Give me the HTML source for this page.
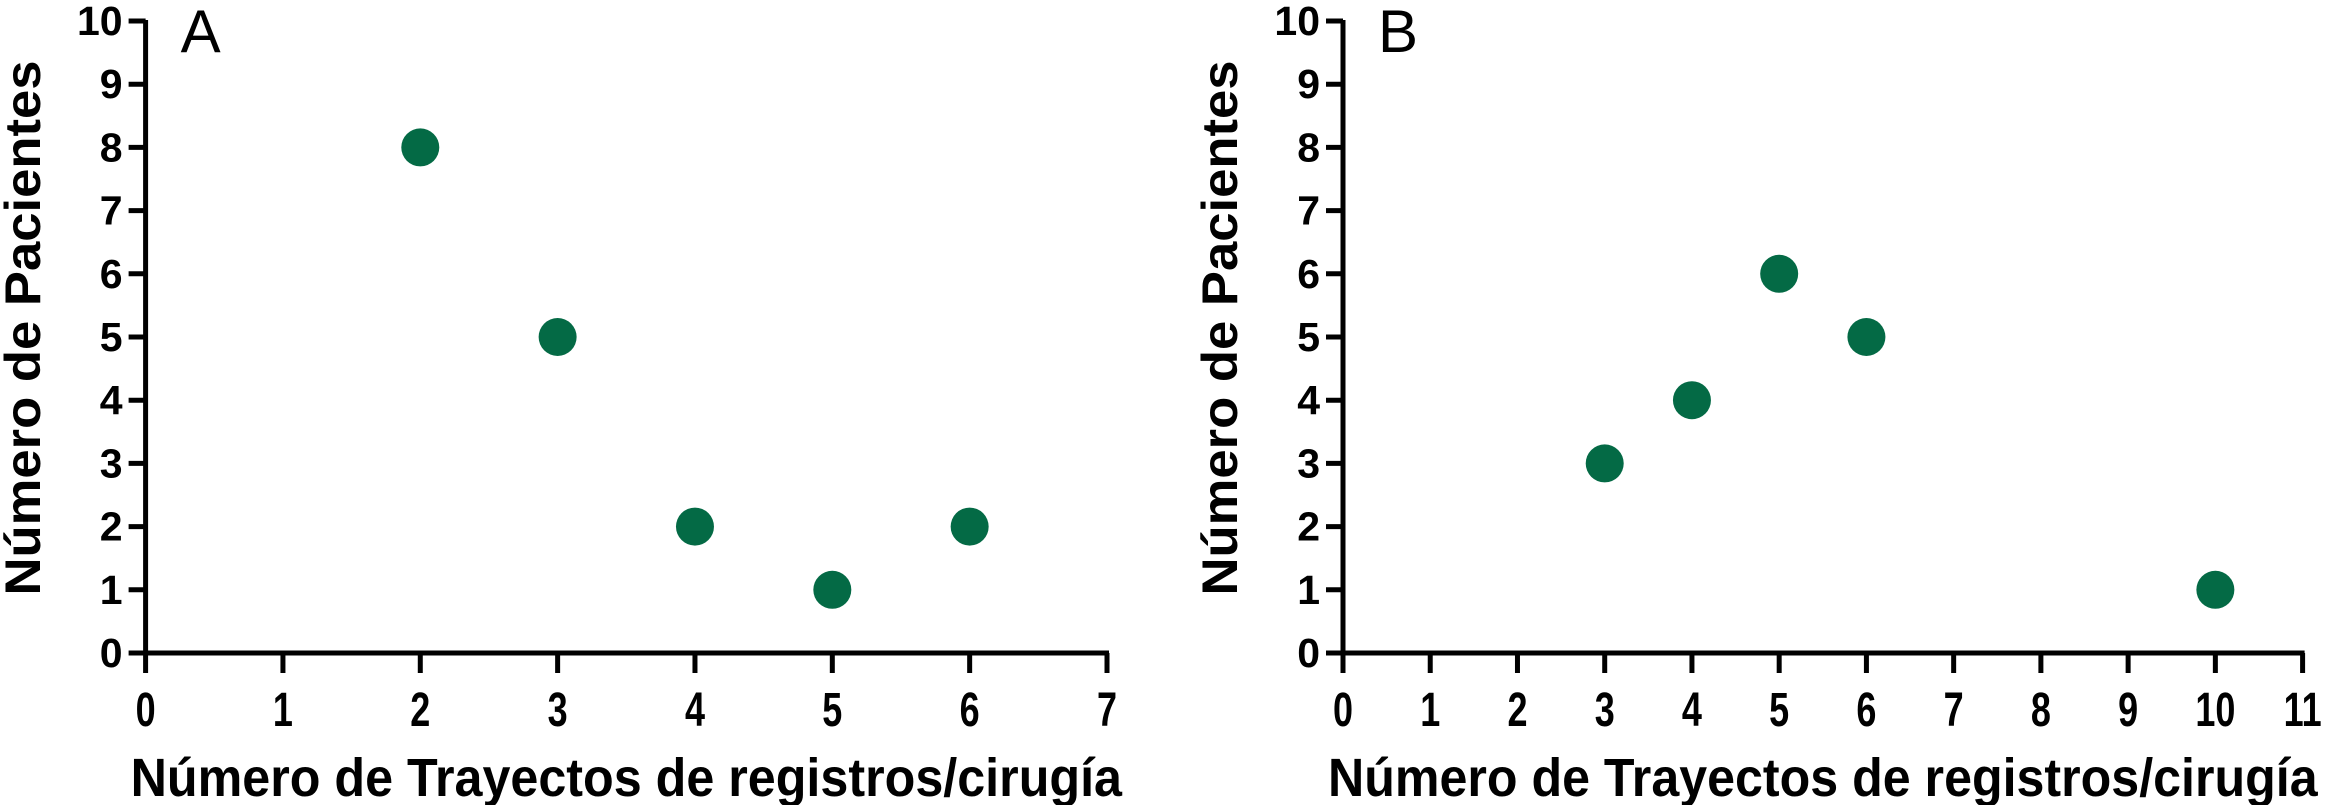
<!DOCTYPE html>
<html><head><meta charset="utf-8"><style>
html,body{margin:0;padding:0;background:#fff;}
svg{display:block;font-family:"Liberation Sans",Arial,sans-serif;}
</style></head><body>
<svg id="chart" width="2333" height="805" viewBox="0 0 2333 805"></svg>
<script>
const aCats = [2,3,4,5,6];
const aVals = [8,5,2,1,2];
const bCats = [3,4,5,6,10];
const bVals = [3,4,6,5,1];
const yTicks = [0,1,2,3,4,5,6,7,8,9,10];
const aXTicks = [0,1,2,3,4,5,6,7];
const bXTicks = [0,1,2,3,4,5,6,7,8,9,10,11];
const NS="http://www.w3.org/2000/svg";
const svg=document.getElementById('chart');
function mk(tag,attrs,parent){const e=document.createElementNS(NS,tag);for(const k in attrs)e.setAttribute(k,attrs[k]);(parent||svg).appendChild(e);return e;}
function panel(name,x0,xMax,xRight,xTicks,cats,vals,letter,yTitleX){
  const g=mk('g',{});
  
  
  const y0=653,y10=21;
  const sx=v=>x0+(xRight-x0)*v/xMax;
  const sy=v=>y0+(y10-y0)*v/10;
  const ya=mk('line',{x1:x0,y1:sy(10)-1,x2:x0,y2:y0+2,stroke:'#000','stroke-width':5},g);
  
  const xa=mk('line',{x1:x0-2,y1:y0,x2:xRight+2,y2:y0,stroke:'#000','stroke-width':5},g);
  
  yTicks.forEach(t=>{
    mk('line',{x1:x0-17,y1:sy(t),x2:x0,y2:sy(t),stroke:'#000','stroke-width':5},g);
    const tx=mk('text',{x:x0-23,y:sy(t)+14,'text-anchor':'end','font-size':41,'font-weight':'bold'},g);
    tx.textContent=t;
    
  });
  xTicks.forEach(t=>{
    mk('line',{x1:sx(t),y1:y0,x2:sx(t),y2:y0+20,stroke:'#000','stroke-width':5},g);
    const tx=mk('text',{x:sx(t),y:726,'text-anchor':'middle','font-size':48,'font-weight':'bold',transform:`translate(${sx(t)},0) scale(0.75,1) translate(${-sx(t)},0)`},g);
    tx.textContent=t;
    
  });
  cats.forEach((c,i)=>{
    const p=mk('circle',{cx:sx(c),cy:sy(vals[i]),r:19,fill:'#046a45'},g);
    
    
  });
  const L=mk('text',{x:x0+35,y:52,'font-size':60},g);
  L.textContent=letter;
  
  const xt=mk('text',{x:(x0+xRight)/2,y:796,'text-anchor':'middle','font-size':54,'font-weight':'bold',textLength:xRight-x0+30,lengthAdjust:'spacingAndGlyphs'},g);
  xt.textContent='Número de Trayectos de registros/cirugía';
  
  const yt=mk('text',{x:0,y:0,'text-anchor':'middle','font-size':50,'font-weight':'bold',textLength:535,lengthAdjust:'spacingAndGlyphs',transform:`translate(${yTitleX},328) rotate(-90)`},g);
  yt.textContent='Número de Pacientes';
  
}
panel('panel-a',145.6,7,1107,aXTicks,aCats,aVals,'A',40);
panel('panel-b',1343,11,2302.6,bXTicks,bCats,bVals,'B',1237);
</script>
</body></html>
